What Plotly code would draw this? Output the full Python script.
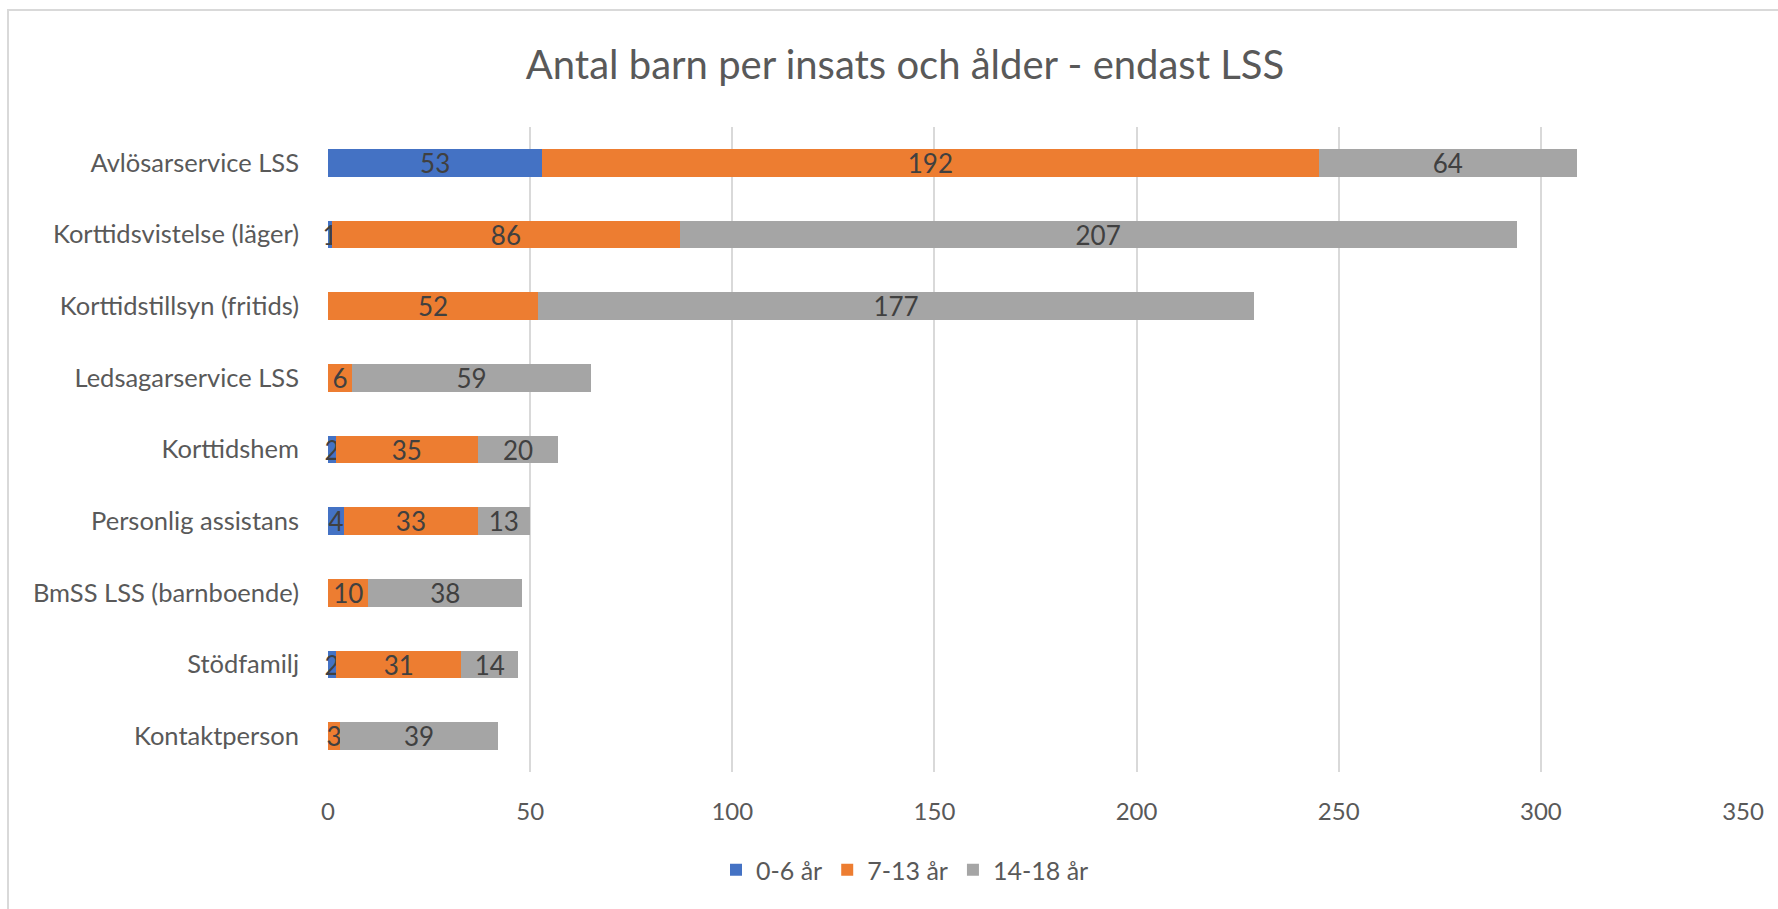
import plotly.graph_objects as go

categories = [
    "Avlösarservice LSS",
    "Korttidsvistelse (läger)",
    "Korttidstillsyn (fritids)",
    "Ledsagarservice LSS",
    "Korttidshem",
    "Personlig assistans",
    "BmSS LSS (barnboende)",
    "Stödfamilj",
    "Kontaktperson",
]
age_0_6 = [53, 1, 0, 0, 2, 4, 0, 2, 0]
age_7_13 = [192, 86, 52, 6, 35, 33, 10, 31, 3]
age_14_18 = [64, 207, 177, 59, 20, 13, 38, 14, 39]

series_names = ["0-6 år", "7-13 år", "14-18 år"]
series_colors = ["#4472C4", "#ED7D31", "#A5A5A5"]
x_ticks = [0, 50, 100, 150, 200, 250, 300, 350]

FONT = "Lato"
W, H = 1778, 909
L, R, T, B = 328, 35, 127, 137
pw, ph = W - L - R, H - T - B

fig = go.Figure()
for name, vals, col in zip(series_names, [age_0_6, age_7_13, age_14_18], series_colors):
    fig.add_trace(go.Bar(
        y=categories, x=vals, name=name, orientation="h",
        marker=dict(color=col, line=dict(width=0)),
        text=[str(v) if v else "" for v in vals],
        textposition="inside", insidetextanchor="middle",
        textangle=0,
        textfont=dict(family=FONT, size=26, color="#404040"),
        constraintext="none",
        cliponaxis=False,
    ))

def px_x(p):
    return (p - L) / pw

def px_y(p):
    return (H - B - p) / ph

fig.update_layout(
    barmode="stack",
    bargap=0.61,
    width=W, height=H,
    margin=dict(l=L, r=R, t=T, b=B, autoexpand=False),
    paper_bgcolor="white", plot_bgcolor="white",
    title=dict(text="Antal barn per insats och ålder - endast LSS",
               x=px_x(905), xanchor="center", xref="paper",
               y=1 - 65 / H, yanchor="middle",
               font=dict(family=FONT, size=40, color="#595959")),
    uniformtext=dict(minsize=26, mode="show"),
    legend=dict(orientation="h", x=px_x(905), xanchor="center", xref="paper",
                y=px_y(870), yanchor="middle",
                font=dict(family=FONT, size=25, color="#595959"),
                itemwidth=30, traceorder="normal"),
    xaxis=dict(range=[0, 350], tickvals=x_ticks, showgrid=True,
               gridcolor="#D9D9D9", gridwidth=2, zeroline=False,
               showline=False, ticks="", ticklabelstandoff=23,
               tickfont=dict(family=FONT, size=24, color="#595959")),
    yaxis=dict(autorange="reversed", showgrid=False, showline=False,
               ticks="", ticklabelstandoff=28, zeroline=False,
               tickfont=dict(family=FONT, size=25.5, color="#595959")),
    shapes=[dict(type="rect", xref="paper", yref="paper",
                 x0=px_x(8), x1=px_x(1800), y0=px_y(930), y1=px_y(10),
                 line=dict(color="#D9D9D9", width=2), layer="below")],
)

fig.write_html("out.html", config={"displayModeBar": False},
               post_script="document.body.style.margin='0';")
